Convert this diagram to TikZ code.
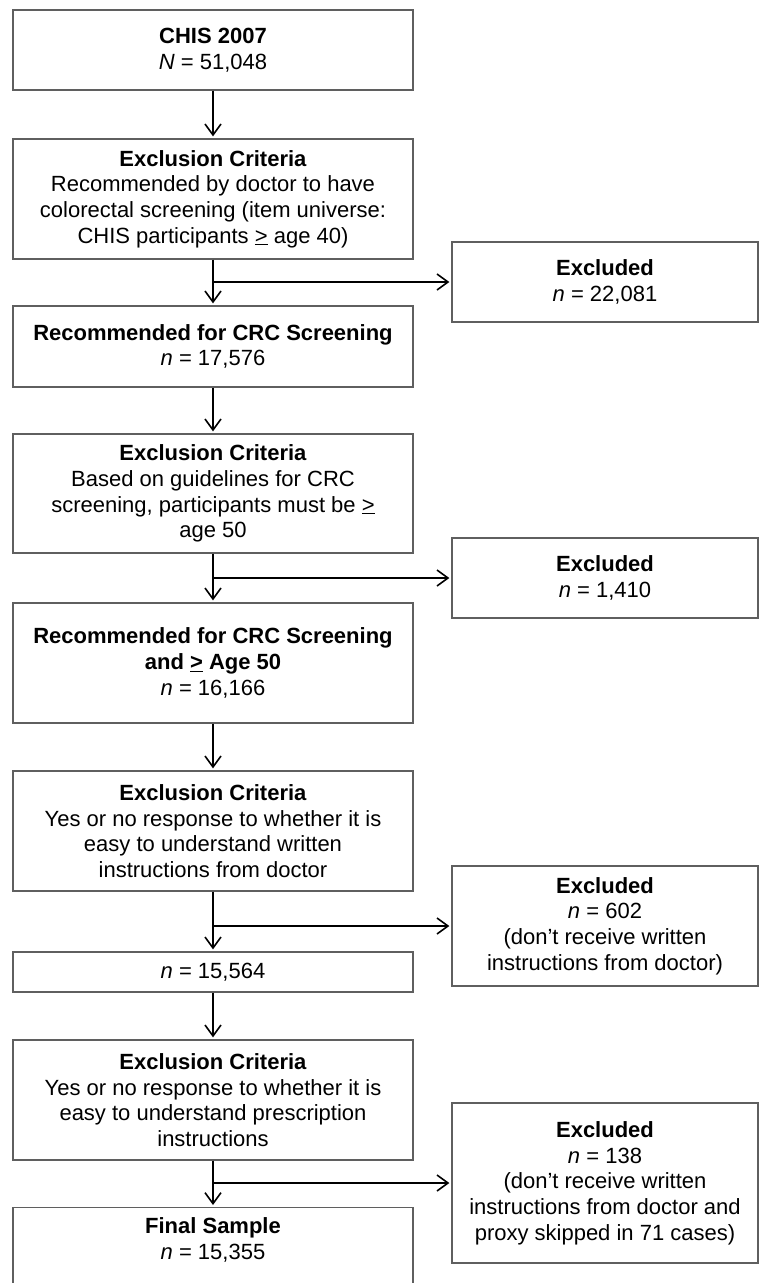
\documentclass[tikz,border=0pt]{standalone}
\usepackage{fontspec}
\setmainfont{Liberation Sans}
\usepackage{tikz}
\usetikzlibrary{positioning,calc,arrows.meta}
\definecolor{frame}{RGB}{95,95,95}
\tikzset{x=1pt, y=-1pt}
\tikzstyle{box}=[draw=frame, line width=1.3pt, fill=white, align=center, inner sep=0pt, font=\fontsize{22}{25.7}\selectfont]
\tikzstyle{crit}=[box, minimum width=400pt, minimum height=120pt]
\tikzstyle{excl}=[box, minimum width=306pt, minimum height=80pt]
\tikzstyle{flow}=[-{Straight Barb[length=11pt,width=16pt,line width=1.6pt]}, line width=1.6pt, shorten >=2pt]

\begin{document}
\begin{tikzpicture}
  \useasboundingbox (0,0) rectangle (759,1283);

  \node[crit, minimum height=80pt] (c_0) at (213,50) {\textbf{CHIS 2007}\\\textit{N} = 51,048};
  \node[crit] (c_1) at (213,199) {\textbf{Exclusion Criteria}\\Recommended by doctor to have\\colorectal screening (item universe:\\CHIS participants \underline{>} age 40)};
  \node[crit, minimum height=81pt] (c_2) at (213,346.5) {\textbf{Recommended for CRC Screening}\\\textit{n} = 17,576};
  \node[crit, minimum height=119pt] (c_3) at (213,493.5) {\textbf{Exclusion Criteria}\\Based on guidelines for CRC\\screening, participants must be \underline{>}\\age 50};
  \node[crit] (c_4) at (213,663) {\textbf{Recommended for CRC Screening}\\\textbf{and \underline{>} Age 50}\\\textit{n} = 16,166};
  \node[crit] (c_5) at (213,831) {\textbf{Exclusion Criteria}\\Yes or no response to whether it is\\easy to understand written\\instructions from doctor};
  \node[crit, minimum height=40pt] (c_6) at (213,972) {\textit{n} = 15,564};
  \node[crit] (c_7) at (213,1100) {\textbf{Exclusion Criteria}\\Yes or no response to whether it is\\easy to understand prescription\\instructions};
  \node[crit, minimum height=0pt, inner ysep=10pt, anchor=north] (c_8) at (213,1207) {\parbox[t][95pt][t]{380pt}{\centering\textbf{Final Sample}\\\textit{n} = 15,355}};

  \node[excl] (x_1) at (605,282) {\textbf{Excluded}\\\textit{n} = 22,081};
  \node[excl] (x_2) at (605,578) {\textbf{Excluded}\\\textit{n} = 1,410};
  \node[excl, minimum height=120pt] (x_3) at (605,926) {\textbf{Excluded}\\\textit{n} = 602\\(don’t receive written\\instructions from doctor)};
  \node[excl, minimum height=160pt] (x_4) at (605,1183) {\textbf{Excluded}\\\textit{n} = 138\\(don’t receive written\\instructions from doctor and\\proxy skipped in 71 cases)};

  \draw[flow] (c_0) -- (c_1);
  \draw[flow] (c_1) -- (c_2);
  \draw[flow] (c_2) -- (c_3);
  \draw[flow] (c_3) -- (c_4);
  \draw[flow] (c_4) -- (c_5);
  \draw[flow] (c_5) -- (c_6);
  \draw[flow] (c_6) -- (c_7);
  \draw[flow] (c_7) -- (c_8);
  \draw[flow] (c_1.south |- x_1) -- (x_1);
  \draw[flow] (c_3.south |- x_2) -- (x_2);
  \draw[flow] (c_5.south |- x_3) -- (x_3);
  \draw[flow] (c_7.south |- x_4) -- (x_4);
\end{tikzpicture}
\end{document}
